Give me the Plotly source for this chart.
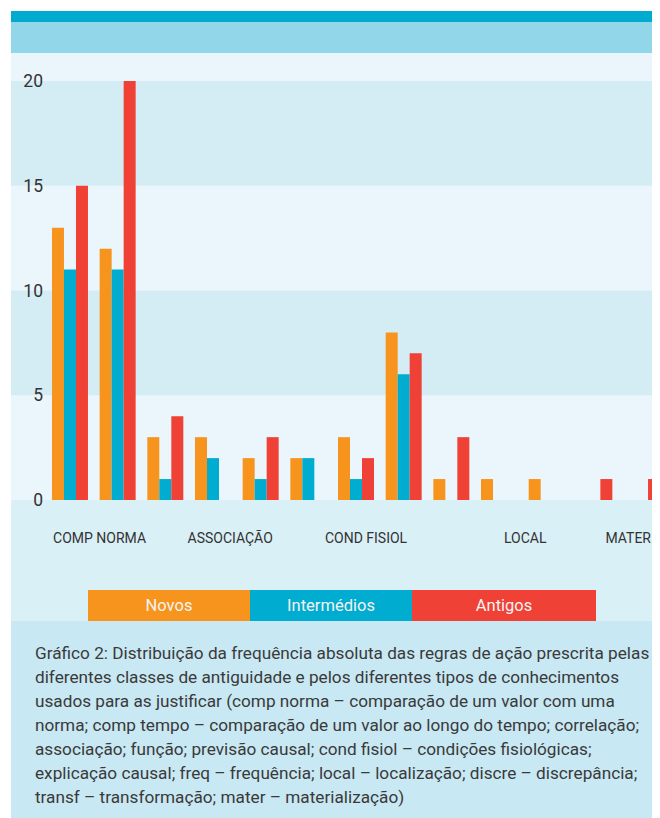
import plotly.graph_objects as go

categories = ["comp norma", "comp tempo", "correlação", "associação", "função",
              "previsão causal", "cond fisiol", "explicação causal", "freq",
              "local", "discre", "transf", "mater"]
novos = [13, 12, 3, 3, 2, 2, 3, 8, 1, 1, 1, 0, 0]
intermedios = [11, 11, 1, 2, 1, 2, 1, 6, 0, 0, 0, 0, 0]
antigos = [15, 20, 4, 0, 3, 0, 2, 7, 3, 0, 0, 1, 1]

tick_labels = ["COMP NORMA", "ASSOCIAÇÃO", "COND FISIOL", "LOCAL", "MATER"]
tick_pos = [0.62, 3.36, 6.21, 9.55, 11.71]

series_names = ["Novos", "Intermédios", "Antigos"]
colors = ["#F7941E", "#00ACCF", "#EF4136"]

caption_lines = [
    "Gráfico 2: Distribuição da frequência absoluta das regras de ação prescrita pelas",
    "diferentes classes de antiguidade e pelos diferentes tipos de conhecimentos",
    "usados para as justificar (comp norma – comparação de um valor com uma",
    "norma; comp tempo – comparação de um valor ao longo do tempo; correlação;",
    "associação; função; previsão causal; cond fisiol – condições fisiológicas;",
    "explicação causal; freq – frequência; local – localização; discre – discrepância;",
    "transf – transformação; mater – materialização)",
]

# page offset (body margin) and plot area in figure pixels
OFF = 8
FW, FH = 652, 810
L, T, B = 36, 45, 492
W, H = FW - L, B - T


def xp(px):
    # page pixel -> paper x
    return (px - OFF - L) / W


def yp(py):
    return (B - (py - OFF)) / H


fig = go.Figure()
idx = list(range(len(categories)))
for name, vals, col in zip(series_names, [novos, intermedios, antigos], colors):
    fig.add_trace(go.Bar(x=idx, y=vals, name=name, marker=dict(color=col, line=dict(width=0)),
                         customdata=categories, hovertemplate="%{customdata}: %{y}<extra>" + name + "</extra>"))

shapes = []


def band(y0, y1, color):
    shapes.append(dict(type="rect", xref="paper", yref="paper", x0=xp(11), x1=1,
                       y0=yp(y1), y1=yp(y0), fillcolor=color, line=dict(width=0), layer="below"))


band(11, 22, "#00ABCF")
band(22, 53, "#92D7E9")
band(53, 500, "#EAF6FB")
band(500, 621, "#D9F0F7")
band(621, 820, "#C8E8F3")
for lo, hi in [(5, 10), (15, 20)]:
    shapes.append(dict(type="rect", xref="paper", yref="y", x0=xp(11), x1=1, y0=lo, y1=hi,
                       fillcolor="#D4EDF4", line=dict(width=0), layer="below"))

annotations = []
# legend boxes
leg_boxes = [(88, 162), (250, 162), (412, 184)]
for name, col, (x0, w) in zip(series_names, colors, leg_boxes):
    annotations.append(dict(xref="paper", yref="paper", x=xp(x0), y=yp(590), xanchor="left", yanchor="top",
                            text=name, showarrow=False, bgcolor=col, width=w, height=31,
                            borderpad=0, borderwidth=0,
                            font=dict(family="Roboto", size=16.5, color="#F4F4F4")))

for i, line in enumerate(caption_lines):
    annotations.append(dict(xref="paper", yref="paper", x=xp(33), y=yp(653 + i * 23.95),
                            xanchor="left", yanchor="middle", text=line, showarrow=False,
                            font=dict(family="Roboto", size=17.2, color="#3A3A3A")))

fig.update_layout(
    width=FW,
    height=FH,
    margin=dict(l=L, r=0, t=T, b=FH - B, pad=0),
    paper_bgcolor="white",
    plot_bgcolor="rgba(0,0,0,0)",
    barmode="group",
    bargap=0.245,
    bargroupgap=0,
    showlegend=False,
    shapes=shapes,
    annotations=annotations,
    font=dict(family="Roboto", color="#333333"),
    xaxis=dict(range=[-0.545, 12.377], tickmode="array", tickvals=tick_pos, ticktext=tick_labels,
               showgrid=False, zeroline=False, showline=False, ticks="",
               ticklabelstandoff=28, tickfont=dict(size=14, color="#333333")),
    yaxis=dict(range=[0, 21.34], tickvals=[0, 5, 10, 15, 20], showgrid=False, zeroline=False,
               showline=False, ticks="", tickfont=dict(size=17.5, color="#333333")),
)

fig.write_html("out.html")
